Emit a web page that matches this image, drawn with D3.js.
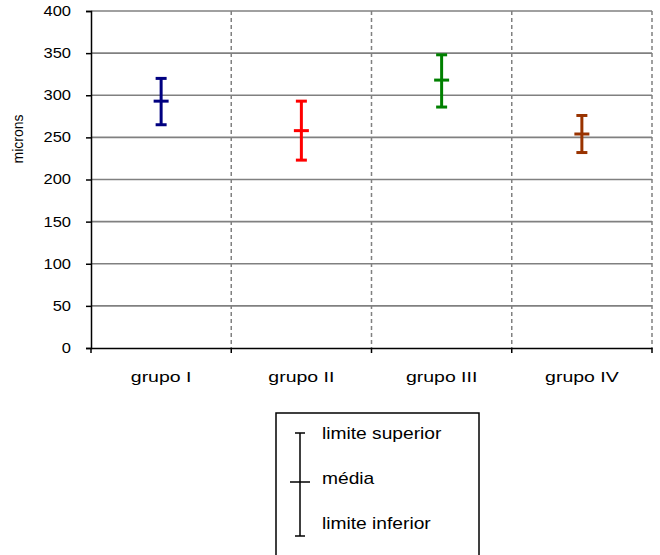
<!DOCTYPE html>
<html>
<head>
<meta charset="utf-8">
<script src="https://d3js.org/d3.v7.min.js"></script>
<style>
  body { margin: 0; background: #fff; }
  svg text { font-family: "Liberation Sans", Arial, sans-serif; fill: #000; }
  .grid line { stroke: #808080; stroke-width: 1.6; }
  .sep { stroke: #808080; stroke-width: 1.5; stroke-dasharray: 4,3; }
</style>
</head>
<body>
<svg width="660" height="555"></svg>
<script>

// data
var groups = ["grupo I", "grupo II", "grupo III", "grupo IV"];
var upper  = [320, 293, 348, 276];
var mean   = [293, 258, 318, 254];
var lower  = [265, 223, 286, 232];
var colors = ["#000080", "#ff0000", "#008000", "#993300"];
var yTicks = [0, 50, 100, 150, 200, 250, 300, 350, 400];
var legendLabels = ["limite superior", "média", "limite inferior"];

var svg = d3.select("svg"),
    pLeft = 91, pRight = 652, pTop = 11, pBottom = 348;

var x = d3.scaleBand().domain(groups).range([pLeft, pRight]).padding(0),
    y = d3.scaleLinear().domain([0, 400]).range([pBottom, pTop]);

var rows = groups.map(function(g, i) {
  return { g: g, hi: upper[i], m: mean[i], lo: lower[i], c: colors[i] };
});

// horizontal grid
svg.append("g").attr("class", "grid")
  .selectAll("line")
  .data(yTicks.filter(function(d) { return d > 0; }))
  .enter().append("line")
  .attr("x1", pLeft).attr("x2", pRight)
  .attr("y1", function(d) { return y(d); })
  .attr("y2", function(d) { return y(d); });

// dashed separators between groups
svg.append("g")
  .selectAll("line")
  .data(groups)
  .enter().append("line")
  .attr("class", "sep")
  .attr("x1", function(d) { return x(d) + x.bandwidth(); })
  .attr("x2", function(d) { return x(d) + x.bandwidth(); })
  .attr("y1", y(400)).attr("y2", y(0));

// y axis
var yAxis = svg.append("g")
  .attr("transform", "translate(" + pLeft + ",0)")
  .call(d3.axisLeft(y).tickValues(yTicks).tickSize(5).tickPadding(15));
yAxis.select(".domain").attr("stroke", "#000").attr("stroke-width", 1.5);
yAxis.selectAll(".tick line").attr("stroke", "#000").attr("stroke-width", 1.5);
yAxis.selectAll("text")
  .attr("x", null)
  .attr("transform", "translate(-20,0) scale(1.18,1)")
  .style("font-size", "14px").attr("fill", "#000");

// x axis
var xAxis = svg.append("g")
  .attr("transform", "translate(0," + pBottom + ")")
  .call(d3.axisBottom(x).tickSize(0).tickPadding(23));
xAxis.select(".domain").attr("stroke", "#000").attr("stroke-width", 1.5);
xAxis.selectAll("text")
  .attr("y", null)
  .attr("dy", null)
  .attr("transform", "translate(0,33.5) scale(1.3,1)")
  .style("font-size", "15px").attr("fill", "#000");

svg.append("g")
  .selectAll("line")
  .data(d3.range(groups.length + 1))
  .enter().append("line")
  .attr("x1", function(i) { return pLeft + i * x.step(); })
  .attr("x2", function(i) { return pLeft + i * x.step(); })
  .attr("y1", pBottom).attr("y2", pBottom + 5)
  .attr("stroke", "#000").attr("stroke-width", 1.5);

// y label
svg.append("text")
  .attr("transform", "translate(23,139) rotate(-90)")
  .attr("text-anchor", "middle")
  .style("font-size", "14px")
  .text("microns");

// error bars
var bars = svg.append("g").selectAll("g")
  .data(rows)
  .enter().append("g")
  .attr("stroke", function(d) { return d.c; })
  .attr("stroke-width", 3);

function cx(d) { return x(d.g) + x.bandwidth() / 2; }

bars.append("line")
  .attr("x1", cx).attr("x2", cx)
  .attr("y1", function(d) { return y(d.hi); })
  .attr("y2", function(d) { return y(d.lo); });
bars.append("line")
  .attr("x1", function(d) { return cx(d) - 5.5; })
  .attr("x2", function(d) { return cx(d) + 5.5; })
  .attr("y1", function(d) { return y(d.hi); })
  .attr("y2", function(d) { return y(d.hi); });
bars.append("line")
  .attr("x1", function(d) { return cx(d) - 5.5; })
  .attr("x2", function(d) { return cx(d) + 5.5; })
  .attr("y1", function(d) { return y(d.lo); })
  .attr("y2", function(d) { return y(d.lo); });
bars.append("line")
  .attr("x1", function(d) { return cx(d) - 7.5; })
  .attr("x2", function(d) { return cx(d) + 7.5; })
  .attr("y1", function(d) { return y(d.m); })
  .attr("y2", function(d) { return y(d.m); });

// legend
var lg = svg.append("g");
lg.append("rect")
  .attr("x", 276).attr("y", 413)
  .attr("width", 203).attr("height", 160)
  .attr("fill", "#fff").attr("stroke", "#000").attr("stroke-width", 1.5);

var ly = [433, 482, 536];
lg.append("line").attr("x1", 300).attr("x2", 300).attr("y1", ly[0]).attr("y2", ly[2])
  .attr("stroke", "#000").attr("stroke-width", 1.5);
lg.append("line").attr("x1", 295).attr("x2", 305).attr("y1", ly[0]).attr("y2", ly[0])
  .attr("stroke", "#000").attr("stroke-width", 1.5);
lg.append("line").attr("x1", 295).attr("x2", 305).attr("y1", ly[2]).attr("y2", ly[2])
  .attr("stroke", "#000").attr("stroke-width", 1.5);
lg.append("line").attr("x1", 290).attr("x2", 310).attr("y1", ly[1]).attr("y2", ly[1])
  .attr("stroke", "#000").attr("stroke-width", 1.5);

lg.selectAll("text.lab")
  .data(legendLabels)
  .enter().append("text")
  .attr("class", "lab")
  .attr("transform", function(d, i) {
    return "translate(322," + [433, 478, 523][i] + ") scale(1.2,1)";
  })
  .attr("dy", "0.35em")
  .style("font-size", "16px")
  .text(function(d) { return d; });

</script>
</body>
</html>
